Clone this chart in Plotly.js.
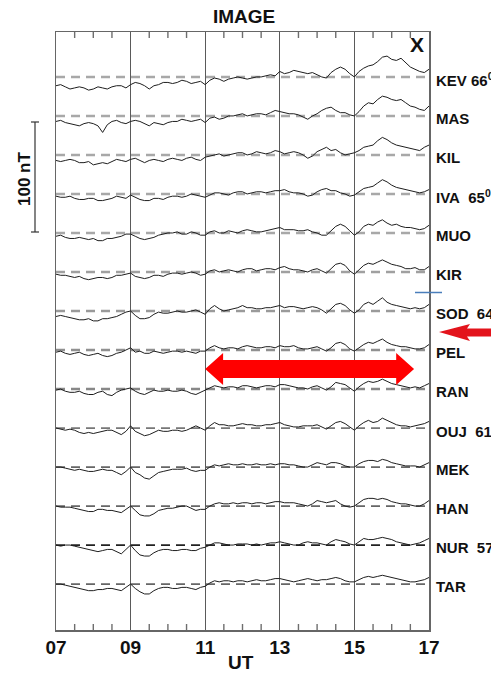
<!DOCTYPE html>
<html>
<head>
<meta charset="utf-8">
<script src="https://cdn.plot.ly/plotly-3.0.1.min.js"></script>
<style>html,body{margin:0;padding:0;background:#fff;}#chart{width:491px;height:675px;}</style>
</head>
<body>
<div id="chart"></div>
<script>
// UT hours (every 7.5 min)
const ut = [7.000,7.125,7.250,7.375,7.500,7.625,7.750,7.875,8.000,8.125,8.250,8.375,8.500,8.625,8.750,8.875,9.000,9.125,9.250,9.375,9.500,9.625,9.750,9.875,10.000,10.125,10.250,10.375,10.500,10.625,10.750,10.875,11.000,11.125,11.250,11.375,11.500,11.625,11.750,11.875,12.000,12.125,12.250,12.375,12.500,12.625,12.750,12.875,13.000,13.125,13.250,13.375,13.500,13.625,13.750,13.875,14.000,14.125,14.250,14.375,14.500,14.625,14.750,14.875,15.000,15.125,15.250,15.375,15.500,15.625,15.750,15.875,16.000,16.125,16.250,16.375,16.500,16.625,16.750,16.875,17.000];

// Station names / labels (top to bottom)
const stations = ["KEV","MAS","KIL","IVA","MUO","KIR","SOD","PEL","RAN","OUJ","MEK","HAN","NUR","TAR"];
const stationLabels = ["KEV 66<sup>0</sup>","MAS","KIL","IVA\u00a0\u00a065<sup>0</sup>","MUO","KIR","SOD\u00a0\u00a064","PEL","RAN","OUJ\u00a0\u00a061<sup>0</sup>","MEK","HAN","NUR\u00a0\u00a057","TAR"];

// X-component deviation from each station's baseline (nT)
const kev = [-8,-7,-9,-11,-10,-9,-10,-12,-11,-9, -10,-11,-9,-8,-8,-10,-7,-5,-6,-8, -11,-8,-7,-5,-5,-6,-5,-3,-4,-6, -5,-4,-7,-3,-1,-2,-4,-2,-1,0, -1,-2,-1,0,0,1,2,1,5,3, 4,6,5,4,3,4,2,0,-1,4, 7,9,7,3,0,5,8,10,11,14, 18,19,16,15,17,13,9,7,5,4, 7];
const mas = [-5,-4,-6,-7,-8,-9,-7,-6,-7,-9, -15,-8,-5,-4,-6,-7,-5,-4,-5,-7, -9,-6,-7,-8,-6,-5,-5,-3,-4,-5, -4,-3,-6,-2,-1,-3,-2,0,0,1, 2,0,1,2,2,1,3,5,4,3, 2,2,1,-1,-3,0,2,5,7,8, 5,3,3,1,0,4,9,12,11,15, 18,17,15,14,15,12,9,8,6,5, 9];
const kil = [-5,-6,-5,-4,-5,-7,-7,-6,-9,-8, -7,-8,-6,-4,-5,-6,-4,-3,-5,-7, -5,-4,-5,-6,-4,-3,-4,-5,-3,-2, -4,-5,-2,-1,0,1,-1,0,1,2, 2,0,1,3,2,1,2,4,3,1, 2,3,2,0,-3,-1,3,5,7,4, 5,2,0,1,2,4,7,8,9,13, 16,14,11,9,8,7,6,5,4,7, 9];
const iva = [-2,-3,-3,-2,-4,-5,-5,-4,-4,-6, -6,-5,-4,-2,-3,-4,-1,-3,-5,-6, -6,-4,-4,-5,-3,-2,-2,-3,-2,0, -1,-2,-3,-1,1,1,0,-1,1,2, 2,0,1,2,2,1,2,3,3,4, 2,1,1,0,-2,-1,2,4,5,3, 3,1,0,-2,-1,2,5,6,7,10, 13,11,8,6,5,4,3,2,1,2, 4];
const muo = [-3,-2,-4,-5,-5,-4,-5,-6,-5,-7, -7,-5,-5,-4,-3,-1,-1,-3,-5,-6, -5,-4,-2,-1,0,0,1,-1,-1,1, 0,-2,-2,1,2,0,0,2,1,0, 2,3,2,1,1,2,3,4,5,3, 3,3,2,2,3,1,0,-2,-2,2, 6,8,6,2,-2,1,6,8,7,10, 12,9,7,8,6,5,5,4,3,4, 7];
const kir = [-2,-3,-3,-4,-5,-4,-6,-7,-6,-5, -5,-6,-5,-3,-3,-2,-1,-4,-5,-6, -5,-3,-3,-4,-2,-1,-1,-2,-1,0, -1,-3,-2,1,2,0,1,2,1,0, 2,3,3,1,2,3,3,2,4,5, 3,2,2,1,0,2,3,1,-1,3, 7,8,6,1,-2,2,6,8,7,9, 11,9,7,6,5,3,3,4,2,2, 5];
const sod = [-5,-4,-5,-6,-7,-8,-8,-7,-9,-9, -7,-7,-6,-5,-3,-1,0,-4,-7,-7, -6,-3,-1,-2,-2,-1,0,-1,-1,0, 1,-1,-3,2,5,2,0,1,2,3, 5,3,3,2,2,3,3,4,5,3, 4,4,3,2,3,4,3,1,-2,2, 6,7,5,1,-2,1,6,8,6,9, 12,8,6,5,4,3,2,3,2,3, 6];
const pel = [-2,-1,-3,-4,-3,-2,-4,-5,-4,-3, -5,-6,-5,-3,-2,0,2,-2,-1,-3, -3,-1,-2,-3,-2,-1,-1,-2,-1,-2, -3,-1,-1,2,4,2,1,2,2,1, 3,4,3,2,2,3,3,2,4,3, 3,4,2,1,1,2,3,1,-1,2, 6,7,5,1,-1,2,5,7,6,8, 10,7,5,4,3,3,2,1,1,2, 5];
const ran = [-1,0,-2,-3,-3,-2,-4,-5,-5,-3, -2,-5,-6,-3,-1,0,1,-2,-4,-5, -3,-1,-2,-2,-1,-2,-2,-1,-2,-4, -5,-3,-1,1,3,2,1,2,2,1, 3,3,2,1,2,3,3,2,4,4, 3,2,1,1,0,2,3,1,-1,2, 6,5,4,1,-2,2,5,7,6,7, 9,7,5,4,3,2,1,2,1,3, 5];
const ouj = [0,-1,-2,-1,-2,-4,-5,-4,-5,-4, -3,-2,-2,-4,-6,-3,2,-3,-5,-7, -6,-4,-2,-3,-3,-2,-2,-3,-2,0, 2,0,-2,2,5,3,3,2,2,3, 4,3,3,2,2,3,3,4,5,3, 2,1,1,2,2,2,3,1,-1,2, 5,6,4,1,-2,2,5,7,5,6, 9,7,5,3,2,2,1,2,3,4, 6];
const mek = [0,0,-1,-2,-3,-2,-3,-4,-4,-3, -2,-3,-3,-5,-7,-4,0,-5,-7,-10, -11,-8,-5,-4,-3,-2,-2,-2,-1,-3, -4,-3,-3,0,2,1,2,3,2,2, 3,2,2,3,2,2,3,2,3,3, 2,2,1,0,0,2,4,3,2,4, 4,3,1,0,0,3,5,6,6,5, 7,6,4,3,2,1,1,1,0,2, 4];
const han = [0,-1,-1,-1,-2,-3,-4,-5,-5,-3, -3,-4,-4,-5,-6,-3,0,-4,-8,-9, -9,-7,-4,-3,-2,-2,-1,0,0,-2, -4,-3,-3,0,2,3,2,2,3,2, 3,3,2,3,3,2,3,4,4,3, 3,3,2,1,0,2,5,4,3,4, 5,2,0,-1,0,3,6,7,7,6, 7,6,4,3,2,2,1,0,0,2, 5];
const nur = [0,-1,0,0,-1,-2,-3,-4,-5,-6, -5,-4,-4,-6,-8,-4,0,-5,-9,-10, -10,-7,-5,-4,-4,-5,-5,-4,-4,-5, -5,-3,-2,0,2,2,1,0,0,1, 1,1,0,1,0,1,2,2,3,2, 1,0,0,2,3,2,2,1,0,3, 5,4,3,1,0,3,6,5,5,6, 7,6,5,3,2,1,0,1,2,4, 6];
const tar = [0,0,-1,-2,-3,-4,-5,-6,-6,-5, -5,-4,-4,-5,-6,-3,0,-4,-7,-9, -9,-6,-4,-3,-3,-4,-4,-3,-3,-4, -5,-3,-2,1,3,2,3,3,2,3, 3,2,3,4,3,3,4,5,5,4, 3,2,3,4,5,4,3,4,4,5, 6,5,3,2,2,4,6,7,6,7, 8,7,6,5,4,3,2,2,3,4, 6];

// x tick labels (major, labelled) and half-hour tick marks
const tickVals = [7,9,11,13,15,17];
const tickText = ["07","09","11","13","15","17"];
const halfHourTicks = [7.5,8,8.5,9.5,10,10.5,11.5,12,12.5,13.5,14,14.5,15.5,16,16.5];

const series = [kev,mas,kil,iva,muo,kir,sod,pel,ran,ouj,mek,han,nur,tar];

// ---- layout / styling ----
const SPACING = 35.5;           // nT between stacked baselines
const Y_TOP = 40.9, Y_BOT = -503.3;
const dashColors = ["#a8a8a8","#a8a8a8","#a8a8a8","#a8a8a8","#a8a8a8","#a0a0a0","#9a9a9a","#909090","#888","#777","#666","#666","#222","#666"];
const FONT = "Liberation Sans, Arial, sans-serif";

const traces = [];
series.forEach((vals, k) => {
  const base = -k * SPACING;
  traces.push({
    x: [ut[0], ut[ut.length-1]], y: [base, base], mode: "lines", type: "scatter",
    line: {color: dashColors[k], width: k < 9 ? 2.5 : 1.8, dash: "9px,6px"},
    hoverinfo: "skip", showlegend: false
  });
});
series.forEach((vals, k) => {
  const base = -k * SPACING;
  traces.push({
    x: ut, y: vals.map(v => v + base), mode: "lines", type: "scatter",
    line: {color: "#1e1e1e", width: 1},
    name: stations[k], showlegend: false
  });
});

// pixel helpers for paper coords (plot area 56..429 x, 32..630 y)
const px = x => (x - 56) / 373;
const py = y => (630 - y) / 598;
const TICK = 6 / 598; // inside tick length in paper units

const annotations = [];
stations.forEach((s, k) => {
  annotations.push({
    xref: "paper", yref: "y", x: px(434), y: -k * SPACING - 2.5,
    xanchor: "left", yanchor: "middle", showarrow: false,
    text: "<b>" + stationLabels[k] + "</b>", font: {family: FONT, size: 15, color: "#111"}
  });
});
annotations.push({xref:"paper", yref:"paper", x: px(244), y: py(17), xanchor:"center", yanchor:"middle", showarrow:false,
  text:"<b>IMAGE</b>", font:{family: FONT, size: 19, color:"#111"}});
annotations.push({xref:"paper", yref:"paper", x: px(417), y: py(45), xanchor:"center", yanchor:"middle", showarrow:false,
  text:"<b>X</b>", font:{family: FONT, size: 21, color:"#111"}});
annotations.push({xref:"paper", yref:"paper", x: px(241), y: py(662), xanchor:"center", yanchor:"middle", showarrow:false,
  text:"<b>UT</b>", font:{family: FONT, size: 19, color:"#111"}});
annotations.push({xref:"paper", yref:"paper", x: px(25), y: py(179), xanchor:"center", yanchor:"middle", showarrow:false,
  textangle: -90, text:"<b>100 nT</b>", font:{family: FONT, size: 17, color:"#111"}});

// double arrow (data coords)
const yc = Y_TOP - (369 - 32) / (598 / (Y_TOP - Y_BOT));
const sh = 8.2, hh = 14.6, xL = 11.0, xR = 16.6, hl = 0.48;
const arrowPath = `M ${xL},${yc} L ${xL+hl},${yc+hh} L ${xL+hl},${yc+sh} L ${xR-hl},${yc+sh} L ${xR-hl},${yc+hh} L ${xR},${yc} L ${xR-hl},${yc-hh} L ${xR-hl},${yc-sh} L ${xL+hl},${yc-sh} L ${xL+hl},${yc-hh} Z`;

const rightArrow = `M ${px(439)},${py(332)} L ${px(470)},${py(324)} L ${px(467)},${py(328.5)} L ${px(492)},${py(328.5)} L ${px(492)},${py(336.5)} L ${px(467)},${py(336.5)} L ${px(470)},${py(341)} Z`;

const shapes = [
  {type:"path", xref:"x", yref:"y", path: arrowPath, fillcolor:"#ff0000", line:{width:0}, layer:"above"},
  {type:"path", xref:"paper", yref:"paper", path: rightArrow, fillcolor:"#e3141c", line:{width:0}},
  {type:"line", xref:"paper", yref:"paper", x0: px(415), x1: px(442), y0: py(292.5), y1: py(292.5), line:{color:"#4a7ebb", width:1.5}},
  // 100 nT scale bar
  {type:"line", xref:"paper", yref:"paper", x0: px(35), x1: px(35), y0: py(122), y1: py(232), line:{color:"#333", width:1.2}},
  {type:"line", xref:"paper", yref:"paper", x0: px(31), x1: px(39), y0: py(122), y1: py(122), line:{color:"#333", width:1.2}},
  {type:"line", xref:"paper", yref:"paper", x0: px(31), x1: px(39), y0: py(232), y1: py(232), line:{color:"#333", width:1.2}}
];
// inside half-hour ticks on bottom and top frame, placed with the x axis scale
halfHourTicks.forEach(t => {
  shapes.push({type:"line", xref:"x", yref:"paper", x0: t, x1: t, y0: 0, y1: TICK, line:{color:"#6e6e6e", width:1.4}});
  shapes.push({type:"line", xref:"x", yref:"paper", x0: t, x1: t, y0: 1 - TICK, y1: 1, line:{color:"#6e6e6e", width:1.4}});
});

const layout = {
  width: 491, height: 675,
  margin: {l: 56, r: 62, t: 32, b: 45, pad: 0},
  paper_bgcolor: "#fff", plot_bgcolor: "#fff",
  showlegend: false,
  xaxis: {
    range: [7, 17], tickmode: "array", tickvals: tickVals, ticktext: tickText,
    ticks: "", showgrid: true, gridcolor: "#5a5a5a", gridwidth: 1.3,
    zeroline: false, showline: true, linecolor: "#666", linewidth: 1.5, mirror: true,
    tickfont: {family: FONT, size: 19, color: "#111", weight: "bold"},
    fixedrange: true
  },
  yaxis: {
    range: [Y_BOT, Y_TOP], showticklabels: false, ticks: "", showgrid: false,
    zeroline: false, showline: true, linecolor: "#666", linewidth: 1.5, mirror: true,
    fixedrange: true
  },
  annotations: annotations,
  shapes: shapes
};

Plotly.newPlot("chart", traces, layout, {staticPlot: true, displayModeBar: false});
</script>
</body>
</html>
